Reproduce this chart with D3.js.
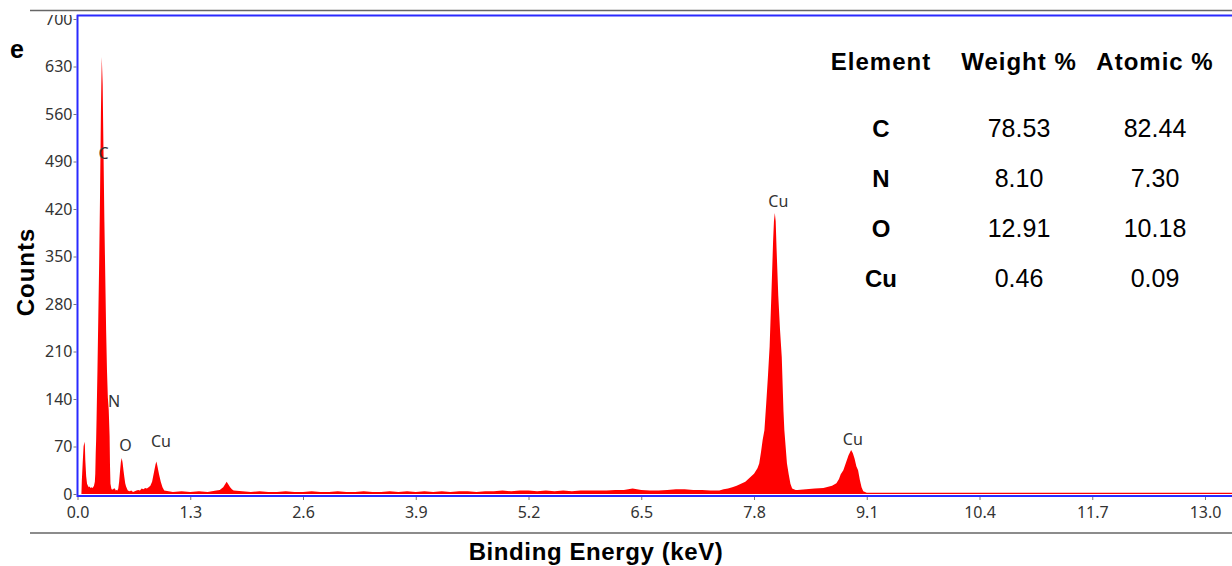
<!DOCTYPE html>
<html>
<head>
<meta charset="utf-8">
<script src="https://cdn.jsdelivr.net/npm/d3@7"></script>
<style>
  body { margin: 0; background: #fff; }
  svg { display: block; }
</style>
</head>
<body>
<div id="chart"></div>
<script>
// spectrum, energy in keV and counts
const energy = [
  0.045, 0.05, 0.06, 0.07, 0.08, 0.085, 0.09, 0.10, 0.11, 0.12, 0.13, 0.14, 0.15, 0.16, 0.17, 0.18, 0.19,
  0.20, 0.205, 0.21, 0.215, 0.22, 0.23, 0.24, 0.25, 0.26, 0.27, 0.28, 0.29, 0.30, 0.31, 0.32, 0.33, 0.34,
  0.35, 0.36, 0.37, 0.375, 0.38, 0.39, 0.40, 0.41, 0.42, 0.43, 0.44, 0.45, 0.46, 0.47, 0.48, 0.49, 0.50,
  0.51, 0.52, 0.53, 0.54, 0.55, 0.56, 0.57, 0.58, 0.60, 0.62, 0.64, 0.66, 0.68, 0.70, 0.72, 0.74, 0.76,
  0.78, 0.80, 0.82, 0.84, 0.86, 0.88, 0.90, 0.91, 0.92, 0.94, 0.96, 0.98, 1.00, 1.05, 1.10, 1.20, 1.30,
  1.40, 1.50, 1.60, 1.64, 1.68, 1.72, 1.74, 1.76, 1.78, 1.80, 1.90, 2.00, 2.10, 2.20, 2.30, 2.40, 2.50,
  2.60, 2.70, 2.80, 2.90, 3.00, 3.10, 3.20, 3.30, 3.40, 3.50, 3.60, 3.70, 3.80, 3.90, 4.00, 4.10, 4.20,
  4.30, 4.40, 4.50, 4.60, 4.70, 4.80, 4.90, 5.00, 5.10, 5.20, 5.30, 5.40, 5.50, 5.60, 5.70, 5.80, 5.90,
  6.00, 6.10, 6.20, 6.30, 6.40, 6.50, 6.60, 6.70, 6.80, 6.90, 7.00, 7.10, 7.20, 7.30, 7.40, 7.45, 7.50,
  7.55, 7.60, 7.65, 7.70, 7.75, 7.80, 7.84, 7.86, 7.88, 7.90, 7.92, 7.94, 7.96, 7.98, 8.00, 8.02, 8.03,
  8.04, 8.05, 8.06, 8.08, 8.10, 8.12, 8.14, 8.15, 8.17, 8.18, 8.20, 8.22, 8.24, 8.28, 8.30, 8.40, 8.50,
  8.60, 8.70, 8.75, 8.78, 8.80, 8.83, 8.86, 8.89, 8.92, 8.94, 8.96, 8.98, 9.00, 9.02, 9.04, 9.06, 9.10,
  9.30, 9.50, 9.70, 9.90, 10.10, 10.30, 10.50, 10.70, 10.90, 11.10, 11.30, 11.50, 11.70, 11.90, 12.10,
  12.30, 12.50, 12.70, 12.90, 13.10, 13.40
]
const counts = [
  0, 20, 46, 70, 77, 72, 50, 26, 15, 12, 10, 11, 9, 10, 9, 10, 12,
  18, 30, 60, 80, 112, 182, 262, 342, 442, 562, 644, 604, 502, 402, 322, 242, 182,
  142, 124, 86, 40, 15, 8, 6, 8, 7, 9, 5, 6, 5, 8, 18, 33, 47,
  53, 46, 35, 25, 16, 11, 8, 5, 4, 5, 3, 4, 5, 6, 5, 8, 7,
  9, 8, 10, 12, 18, 31, 44, 48, 42, 29, 18, 10, 5, 4, 3, 4, 3,
  4, 3, 5, 6, 10, 18, 14, 10, 7, 5, 4, 3, 4, 3, 3, 4, 3,
  3, 4, 3, 3, 4, 3, 3, 4, 3, 3, 4, 3, 4, 3, 4, 3, 4,
  3, 4, 4, 3, 4, 4, 5, 4, 5, 5, 4, 5, 4, 5, 4, 5, 5,
  5, 5, 6, 6, 8, 6, 5, 5, 6, 7, 7, 6, 6, 5, 5, 7, 8,
  10, 12, 15, 18, 24, 30, 38, 45, 61, 80, 94, 132, 172, 217, 292, 372, 402,
  414, 402, 362, 292, 242, 202, 122, 94, 61, 45, 29, 15, 8, 6, 6, 7, 8,
  9, 12, 16, 22, 29, 35, 46, 57, 65, 60, 52, 41, 35, 21, 10, 4, 2,
  2, 2, 2, 2, 2, 2, 2, 2, 2, 2, 2, 2, 2, 2, 2,
  2, 2, 2, 2, 2, 2
]

// peak labels
const peakNames = ["C", "N", "O", "Cu", "Cu", "Cu"]
const peakEnergy = [0.30, 0.421, 0.554, 0.963, 8.08, 8.94]
const peakCounts = [494, 128, 63, 69, 423, 72]

// axis ticks
const xTicks = [0.0, 1.3, 2.6, 3.9, 5.2, 6.5, 7.8, 9.1, 10.4, 11.7, 13.0]
const yTicks = [0, 70, 140, 210, 280, 350, 420, 490, 560, 630, 700]

// composition table
const tableHeader = ["Element", "Weight %", "Atomic %"]
const elements = ["C", "N", "O", "Cu"]
const weightPct = ["78.53", "8.10", "12.91", "0.46"]
const atomicPct = ["82.44", "7.30", "10.18", "0.09"]

function drawChart() {
    const width = 1232
    const height = 566
    const plot = {left: 77.5, top: 15.5, right: 1240, bottom: 496}
    const tickFont = "'Noto Sans', 'DejaVu Sans', sans-serif"
    const boldFont = "'Liberation Sans', Arial, sans-serif"

    const svg = d3.select("#chart").append("svg")
                  .attr("width", width)
                  .attr("height", height)

    // scales
    const xScale = d3.scaleLinear()
                     .domain([0, 13.0])
                     .range([77.5, 1205])
    const yScale = d3.scaleLinear()
                     .domain([0, 700])
                     .range([494, 19])

    // y axis
    const yAxis = d3.axisLeft(yScale)
                    .tickValues(yTicks)
                    .tickSize(3)
                    .tickPadding(1)
    const gy = svg.append("g")
                  .attr("transform", `translate(${plot.left - 1},0)`)
                  .call(yAxis)
    gy.select(".domain").remove()
    gy.selectAll("line").attr("stroke", "#777")
    gy.selectAll("text")
      .attr("dy", "0.33em")
      .style("font-family", tickFont)
      .style("font-size", "16px")
      .attr("fill", "#333")

    // x axis
    const xAxis = d3.axisBottom(xScale)
                    .tickValues(xTicks)
                    .tickFormat(d3.format(".1f"))
                    .tickSize(3)
                    .tickPadding(7)
    const gx = svg.append("g")
                  .attr("transform", `translate(0,${plot.bottom + 1})`)
                  .call(xAxis)
    gx.select(".domain").remove()
    gx.selectAll("line").attr("stroke", "#777")
    gx.selectAll("text")
      .style("font-family", tickFont)
      .style("font-size", "16px")
      .attr("fill", "#333")

    // spectrum
    const area = d3.area()
                   .x((d, i) => xScale(energy[i]))
                   .y0(yScale(0))
                   .y1((d, i) => yScale(counts[i]))
    svg.append("path")
       .datum(counts)
       .attr("d", area)
       .attr("fill", "#ff0000")

    // plot frame
    svg.append("rect")
       .attr("x", plot.left)
       .attr("y", plot.top)
       .attr("width", plot.right - plot.left)
       .attr("height", plot.bottom - plot.top)
       .attr("fill", "none")
       .attr("stroke", "#2a2aff")
       .attr("stroke-width", 2)

    // crop the top tick label like the figure does
    svg.append("rect")
       .attr("x", 0).attr("y", 0)
       .attr("width", plot.left - 1).attr("height", 15)
       .attr("fill", "#fff")

    // separator lines
    svg.append("line")
       .attr("x1", 30).attr("x2", width)
       .attr("y1", 10.5).attr("y2", 10.5)
       .attr("stroke", "#666").attr("stroke-width", 1.5)
    svg.append("line")
       .attr("x1", 30).attr("x2", width)
       .attr("y1", 533).attr("y2", 533)
       .attr("stroke", "#666").attr("stroke-width", 1.5)

    // peak labels
    svg.append("g")
       .selectAll("text")
       .data(peakNames)
       .join("text")
       .attr("x", (d, i) => xScale(peakEnergy[i]))
       .attr("y", (d, i) => yScale(peakCounts[i]))
       .attr("text-anchor", "middle")
       .style("font-family", tickFont)
       .style("font-size", "16px")
       .attr("fill", "#333")
       .text(d => d)

    // axis titles
    svg.append("text")
       .attr("x", 596).attr("y", 560)
       .attr("text-anchor", "middle")
       .style("font-family", boldFont)
       .style("font-weight", "bold")
       .style("font-size", "24px")
       .style("letter-spacing", "0.6px")
       .text("Binding Energy (keV)")
    svg.append("text")
       .attr("transform", "translate(34,272) rotate(-90)")
       .attr("text-anchor", "middle")
       .style("font-family", boldFont)
       .style("font-weight", "bold")
       .style("font-size", "24px")
       .style("letter-spacing", "1px")
       .text("Counts")
    svg.append("text")
       .attr("x", 10).attr("y", 58)
       .style("font-family", boldFont)
       .style("font-weight", "bold")
       .style("font-size", "25px")
       .text("e")

    // composition table
    const colX = [881, 1019, 1155]
    const table = svg.append("g")
                     .style("font-family", boldFont)
                     .style("font-size", "24px")
                     .attr("text-anchor", "middle")
    table.selectAll(".head")
         .data(tableHeader)
         .join("text")
         .attr("class", "head")
         .attr("x", (d, i) => colX[i])
         .attr("y", 70)
         .style("font-weight", "bold")
         .style("letter-spacing", "1px")
         .text(d => d)
    const rows = table.selectAll(".row")
                      .data(elements)
                      .join("g")
                      .attr("class", "row")
                      .attr("transform", (d, i) => `translate(0,${137 + i * 50})`)
    rows.append("text")
        .attr("x", colX[0])
        .style("font-weight", "bold")
        .text(d => d)
    rows.append("text")
        .attr("x", colX[1])
        .style("font-size", "25px")
        .text((d, i) => weightPct[i])
    rows.append("text")
        .attr("x", colX[2])
        .style("font-size", "25px")
        .text((d, i) => atomicPct[i])
}

drawChart()
</script>
</body>
</html>
